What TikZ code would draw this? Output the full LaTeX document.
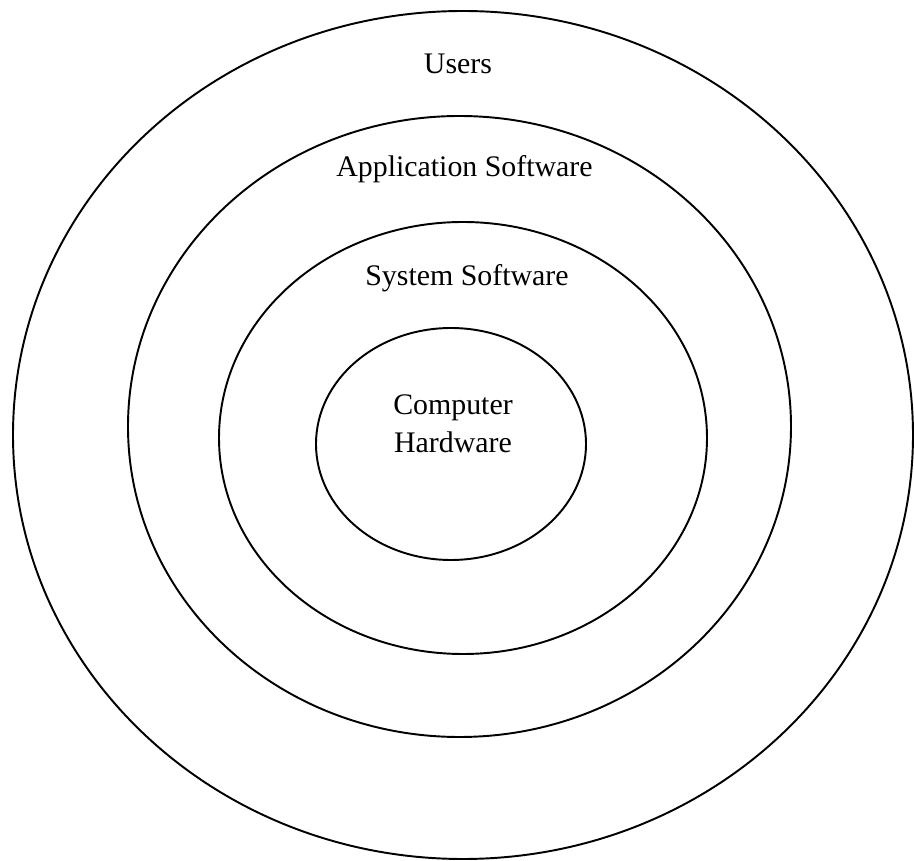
\documentclass[tikz,border=0pt]{standalone}
\usepackage{fontspec}
\setmainfont{Liberation Serif}
\begin{document}
\begin{tikzpicture}[x=0.02cm,y=-0.02cm,
  ring/.style={draw=black, line width=1.1pt},
  ringtext/.style={inner sep=0pt, font=\fontsize{17}{21.6}\selectfont}]

\useasboundingbox (0,0) rectangle (914,861);

%draw the four layers, outside to inside
\draw [ring] (463,435) ellipse [x radius=450, y radius=424];
\draw [ring] (459.5,426.5) ellipse [x radius=331.5, y radius=310.5];
\draw [ring] (463,438) ellipse [x radius=244, y radius=216];
\draw [ring] (451,444) ellipse [x radius=135, y radius=116];

%names of the layers
\node [ringtext, anchor=base] at (458,74) (users) {Users};
\node [ringtext, anchor=base] at (464.5,177) (app) {Application Software};
\node [ringtext, anchor=base] at (467,286) (sys) {System Software};
\node [ringtext, align=center] at (453,424) (hw) {Computer\\Hardware};

\end{tikzpicture}
\end{document}
